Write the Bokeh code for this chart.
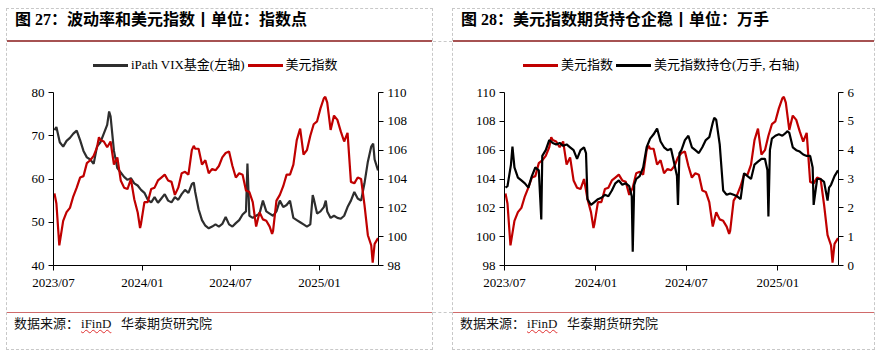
import pandas as pd
from bokeh.plotting import figure
from bokeh.models import (Range1d, LinearAxis, FixedTicker, DatetimeTickFormatter,
                          Div, ColumnDataSource)
from bokeh.layouts import row, column
from bokeh.embed import file_html
from bokeh.resources import INLINE

# ---------------- data ----------------
week_dates = pd.DatetimeIndex([pd.Timestamp("2023-07-03")]).append(
    pd.date_range("2023-07-07", periods=96, freq="7D"))

dxy_values = [
    103.0,
    102.3, 99.6, 101.1, 101.7,
    102.0, 102.8, 103.4, 104.1,
    104.2, 105.1, 105.3, 105.6, 106.2,
    106.7, 106.6, 106.2, 106.6,
    105.0, 105.5, 103.9, 103.4,
    103.3, 104.0, 102.6, 101.7, 100.9,
    102.4, 102.4, 103.3, 103.4,
    103.9, 104.1, 104.3, 103.9,
    103.8, 102.9, 103.4, 104.4, 104.5,
    104.3, 106.0, 106.1, 106.1,
    105.0, 105.3, 104.4, 104.7, 104.6,
    104.9, 105.5, 105.8, 105.9,
    104.9, 104.1, 104.4, 104.3,
    103.2, 103.1, 102.4, 100.7, 101.7,
    101.2, 101.1, 100.7, 100.4,
    102.5, 102.9, 103.5, 104.3,
    104.3, 105.0, 106.7, 107.5, 105.7,
    106.0, 107.0, 107.8, 108.0,
    108.9, 109.6, 109.3, 107.4, 108.4,
    108.1, 107.3, 106.6, 107.2,
    103.8, 103.7, 104.1, 104.0,
    102.2, 100.1, 99.4, 99.5,
    99.9,
]
dxy_extra_dates = ["2023-07-13", "2023-10-03", "2023-12-27", "2024-04-16",
                   "2024-09-25", "2025-01-13", "2025-04-21"]
dxy_extra_values = [99.4, 106.9, 100.6, 106.3, 100.2, 109.7, 98.2]

vix_values = [
    71.3,
    72.0, 68.5, 67.5, 68.8,
    69.5, 70.5, 71.2, 69.0,
    66.5, 65.0, 64.5, 63.5, 67.5,
    68.5, 70.5, 72.5, 74.5,
    66.5, 62.5, 61.5, 60.5,
    59.8, 60.2, 59.0, 58.5, 57.5,
    56.8, 55.2, 54.6, 55.8,
    54.5, 55.5, 56.5, 55.0,
    54.6, 55.8, 55.2, 56.5, 57.5,
    56.8, 58.8, 57.0, 53.0,
    50.5, 49.2, 48.6, 49.0, 49.5,
    49.0, 49.6, 51.2, 49.5,
    49.0, 49.8, 50.5, 51.8,
    52.5, 51.5, 51.0, 51.5, 52.0,
    55.0, 52.5, 52.0, 51.5,
    52.5, 55.0, 53.5, 54.0,
    55.0, 51.0, 50.5, 50.0, 49.5,
    49.0, 49.5, 55.5, 52.0,
    52.5, 53.5, 52.5, 51.0, 51.5,
    51.0, 50.8, 51.5, 53.5,
    55.0, 57.0, 55.5, 55.0,
    59.0, 64.0, 67.5, 64.5,
    62.0,
]
vix_extra_dates = ["2023-10-24", "2024-04-16", "2024-08-05", "2024-12-18",
                   "2025-01-14", "2025-04-22"]
vix_extra_values = [75.6, 59.2, 63.6, 56.3, 55.0, 68.2]

pos_values = [
    2.7,
    2.75, 3.5, 3.4, 3.05,
    2.95, 2.85, 2.7, 3.1,
    3.4, 3.3, 3.8, 4.0, 4.35,
    4.25, 4.2, 4.25, 4.15,
    4.2, 4.1, 4.0, 3.7,
    4.0, 4.1, 2.3, 2.1, 2.2,
    2.3, 2.35, 2.45, 2.4,
    2.6, 2.85, 2.95, 2.8,
    2.85, 2.75, 0.48, 3.0, 3.1,
    3.4, 4.1, 4.4, 4.55,
    4.75, 4.3, 4.1, 4.0, 4.05,
    3.5, 2.1, 4.0, 4.35,
    4.5, 4.1, 4.0, 3.9,
    4.1, 4.35, 4.45, 4.95, 5.05,
    4.2, 2.6, 2.45, 2.5,
    2.45, 2.4, 2.3, 3.2,
    3.1, 3.0, 3.5, 3.6, 3.7,
    3.7, 1.7, 4.4, 4.5,
    4.55, 4.5, 4.6, 4.6, 4.1,
    4.0, 3.95, 3.85, 3.8,
    3.8, 2.1, 3.0, 3.0,
    2.9, 2.25, 2.8, 3.1,
    3.3,
]
pos_extra_dates = ["2023-07-17", "2023-09-13", "2023-12-12", "2024-03-13",
                   "2024-03-18", "2024-06-12", "2024-06-17", "2024-08-26",
                   "2024-12-11", "2024-12-16", "2025-01-20", "2025-03-12",
                   "2025-04-14"]
pos_extra_values = [4.12, 1.6, 3.9, 2.4, 2.8, 3.1, 3.9, 5.12, 3.3, 4.0, 4.66,
                    3.4, 2.7]

x_tick_dates = ["2023-07-01", "2024-01-01", "2024-07-01", "2025-01-01"]
x_start, x_end = "2023-07-01", "2025-05-03"
vix_ticks = [40, 50, 60, 70, 80]
dxy_ticks = [98, 100, 102, 104, 106, 108, 110]
pos_ticks = [0, 1, 2, 3, 4, 5, 6]

title_left = "图 27：波动率和美元指数丨单位：指数点"
title_right = "图 28：美元指数期货持仓企稳丨单位：万手"
legend_vix = "iPath VIX基金(左轴)"
legend_dxy = "美元指数"
legend_pos = "美元指数持仓(万手, 右轴)"
source_label = "数据来源："
source_name = "iFinD"
source_org = "华泰期货研究院"

# ---------------- helpers ----------------
def make_source(base_vals, extra_dates, extra_vals):
    assert len(base_vals) == len(week_dates)
    s = pd.Series(base_vals, index=week_dates)
    e = pd.Series(extra_vals, index=pd.to_datetime(extra_dates))
    s = pd.concat([s, e]).sort_index()
    s = s[~s.index.duplicated(keep="last")]
    return ColumnDataSource(dict(date=s.index, value=s.values))

src_dxy = make_source(dxy_values, dxy_extra_dates, dxy_extra_values)
src_vix = make_source(vix_values, vix_extra_dates, vix_extra_values)
src_pos = make_source(pos_values, pos_extra_dates, pos_extra_values)

RED = "#c00000"
VIX_COLOR = "#2e2e2e"
POS_COLOR = "#000000"
SERIF = "Liberation Serif"
x_tick_ms = [pd.Timestamp(t).value // 10**6 for t in x_tick_dates]
FIG_H = 232
MB_TOP, MB_BOTTOM = 12, 47


def style_axis(ax):
    ax.axis_line_color = "black"
    ax.axis_line_width = 1
    ax.major_tick_line_color = "black"
    ax.major_tick_out = 5
    ax.major_tick_in = 0
    ax.minor_tick_line_color = None
    ax.major_label_text_font = SERIF
    ax.major_label_text_font_size = "13px"
    ax.major_label_text_color = "black"
    ax.major_label_standoff = 4


def make_fig(width, mbl, mbr, left_range, left_ticks, right_range, right_ticks):
    p = figure(width=width, height=FIG_H, x_axis_type="datetime",
               x_range=Range1d(pd.Timestamp(x_start), pd.Timestamp(x_end)),
               y_range=Range1d(*left_range),
               output_backend="svg", toolbar_location=None,
               min_border_left=mbl, min_border_right=mbr,
               min_border_top=MB_TOP, min_border_bottom=MB_BOTTOM,
               background_fill_color="white", border_fill_color="white",
               outline_line_color=None)
    p.extra_y_ranges = {"r": Range1d(*right_range)}
    p.add_layout(LinearAxis(y_range_name="r", ticker=FixedTicker(ticks=right_ticks)), "right")
    p.left[0].ticker = FixedTicker(ticks=left_ticks)
    p.xgrid.visible = False
    p.ygrid.visible = False
    p.xaxis.ticker = FixedTicker(ticks=x_tick_ms)
    p.xaxis.formatter = DatetimeTickFormatter(days="%Y/%m", months="%Y/%m",
                                              years="%Y/%m")
    for ax in p.axis:
        style_axis(ax)
    return p


FONT_CSS = "'Liberation Serif','Times New Roman','Noto Sans CJK SC',serif"


def title_div(text, width, pad):
    html = (f'<div style="box-sizing:border-box;width:{width}px;height:33px;'
            f'border-bottom:2px solid #a65252;padding:1px 0 0 {pad}px;'
            f'font-family:{FONT_CSS};font-weight:bold;font-size:16px;'
            f'line-height:20px;color:#000;white-space:nowrap;">{text}</div>')
    return Div(text=html, width=width, height=33, margin=0)


def legend_div(width, pad, items):
    parts = []
    for i, (label, color) in enumerate(items):
        parts.append(
            f'<span style="display:inline-block;width:35px;height:0;'
            f'border-top:3px solid {color};vertical-align:middle;'
            f'margin-left:{0 if i == 0 else 3}px;"></span>'
            f'<span style="margin-left:3px;vertical-align:middle;">{label}</span>')
    html = (f'<div style="box-sizing:border-box;width:{width}px;height:38px;'
            f'padding:12px 0 0 {pad}px;font-family:{FONT_CSS};font-size:13px;'
            f'line-height:20px;color:#000;white-space:nowrap;">'
            + "".join(parts) + '</div>')
    return Div(text=html, width=width, height=38, margin=0)


def foot_div(width, pad):
    html = (f'<div style="box-sizing:border-box;width:{width}px;height:37px;'
            f'border-top:1.5px solid #d06a6a;padding:2px 0 0 {pad}px;'
            f'font-family:{FONT_CSS};font-size:13px;line-height:18px;'
            f'color:#111;white-space:nowrap;">{source_label}'
            f'<span style="margin-left:2px;text-decoration:underline wavy #e03030;'
            f'text-decoration-thickness:1px;">{source_name}</span>'
            f'&nbsp;&nbsp;&nbsp;{source_org}</div>')
    return Div(text=html, width=width, height=37, margin=0)


# ---------------- left chart ----------------
p1 = make_fig(425, 46, 54, (40, 80), vix_ticks, (98, 110), dxy_ticks)
p1.line("date", "value", source=src_vix, color=VIX_COLOR, line_width=2.2)
p1.line("date", "value", source=src_dxy, color=RED, line_width=2.2, y_range_name="r")
leg1 = legend_div(425, 86, [(legend_vix, VIX_COLOR), (legend_dxy, RED)])

# ---------------- right chart ----------------
p2 = make_fig(421, 51, 36, (98, 110), dxy_ticks, (0, 6), pos_ticks)
p2.line("date", "value", source=src_dxy, color=RED, line_width=2.2)
p2.line("date", "value", source=src_pos, color=POS_COLOR, line_width=2.2, y_range_name="r")
leg2 = legend_div(421, 70, [(legend_dxy, RED), (legend_pos, POS_COLOR)])

BORDER = {"border": "1px dashed #c8c8c8"}
left_panel = column(title_div(title_left, 425, 8), leg1, p1, foot_div(425, 7),
                    spacing=0, margin=0, styles=BORDER)
right_panel = column(title_div(title_right, 421, 8), leg2, p2, foot_div(421, 7),
                     spacing=0, margin=0, styles=BORDER)
gap_html = ('<div style="position:relative;width:19px;height:342px;">'
            '<div style="position:absolute;left:0;top:33px;width:19px;'
            'border-top:1px dashed #c8c8c8;"></div>'
            '<div style="position:absolute;left:0;top:304px;width:19px;'
            'border-top:1px dashed #c8c8c8;"></div></div>')
gap = Div(text=gap_html, width=19, height=342, margin=0)

root = row(left_panel, gap, right_panel, spacing=0, margin=(8, 0, 0, 6))

open("out.html", "w").write(file_html(root, INLINE, "chart"))
